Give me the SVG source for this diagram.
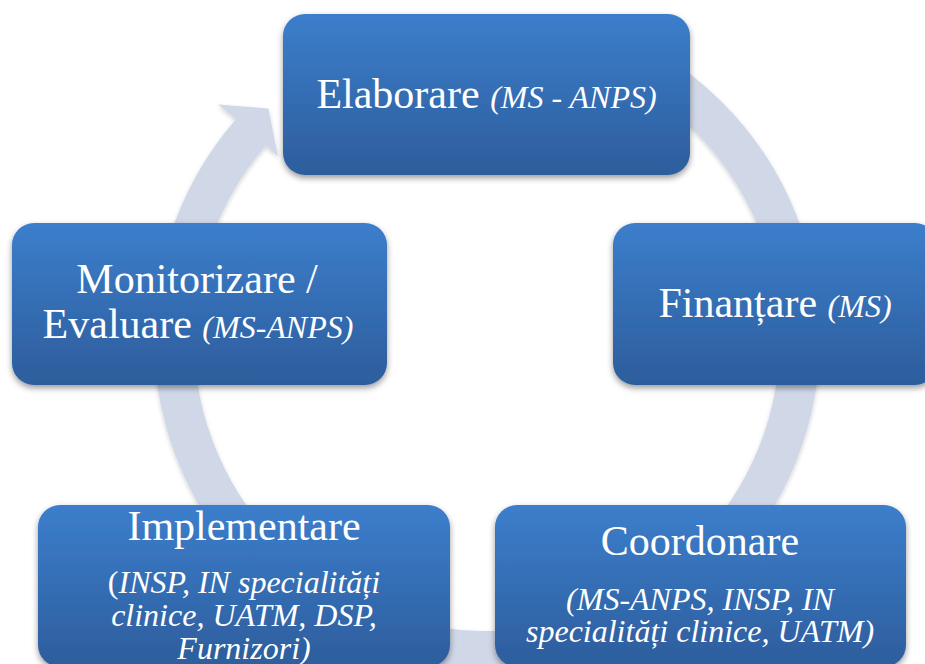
<svg xmlns="http://www.w3.org/2000/svg" width="925" height="664" viewBox="0 0 925 664">
  <defs>
    <linearGradient id="boxGrad" x1="0" y1="0" x2="0" y2="1">
      <stop offset="0" stop-color="#3C7ECC"/>
      <stop offset="1" stop-color="#2D5D9C"/>
    </linearGradient>
    <filter id="shadow" x="-10%" y="-10%" width="120%" height="130%">
      <feDropShadow dx="0" dy="3" stdDeviation="3" flood-color="#000" flood-opacity="0.4"/>
    </filter>
    <filter id="ringShadow" x="-10%" y="-10%" width="120%" height="120%">
      <feDropShadow dx="0" dy="2" stdDeviation="2" flood-color="#000" flood-opacity="0.18"/>
    </filter>
  </defs>
  <style>
    .box { fill: url(#boxGrad); filter: url(#shadow); }
    .main { font-family: "Liberation Serif", "Times New Roman", serif; font-size: 42px; fill: #FFFFFF; }
    .sub { font-family: "Liberation Serif", "Times New Roman", serif; font-size: 32px; font-style: italic; fill: #FFFFFF; }
    .up { font-style: normal; }
  </style>
  <rect width="925" height="664" fill="#FFFFFF"/>
  <g id="connectors">
    <path filter="url(#ringShadow)" fill="#D0D7E7" d="M 653.5 49.6 A 333 333 0 1 1 235.7 119.5 L 218.3 104.4 L 268.4 108.4 L 277.9 156.3 L 265.9 145.8 A 293 293 0 1 0 633.5 84.3 Z"/>
  </g>
  <g id="elaborare">
    <rect class="box" x="283" y="14" width="407" height="161" rx="22"/>
    <text x="486.5" y="108" text-anchor="middle"><tspan class="main">Elaborare </tspan><tspan class="sub">(MS - ANPS)</tspan></text>
  </g>
  <g id="finantare">
    <rect class="box" x="613" y="223" width="324" height="162" rx="22"/>
    <text x="775" y="317" text-anchor="middle"><tspan class="main">Finanțare </tspan><tspan class="sub">(MS)</tspan></text>
  </g>
  <g id="coordonare">
    <rect class="box" x="495" y="505" width="411" height="162" rx="22"/>
    <text class="main" x="700" y="555" text-anchor="middle">Coordonare</text>
    <text class="sub" x="700" y="610" text-anchor="middle">(MS-ANPS, INSP, IN</text>
    <text class="sub" x="700" y="642" text-anchor="middle">specialități clinice, UATM)</text>
  </g>
  <g id="implementare">
    <rect class="box" x="38" y="505" width="412" height="162" rx="22"/>
    <text class="main" x="244" y="540" text-anchor="middle">Implementare</text>
    <text class="sub" x="244" y="593" text-anchor="middle"><tspan class="up">(</tspan>INSP, IN specialități</text>
    <text class="sub" x="244" y="626" text-anchor="middle">clinice, UATM, DSP,</text>
    <text class="sub" x="244" y="659" text-anchor="middle">Furnizori)</text>
  </g>
  <g id="monitorizare">
    <rect class="box" x="12" y="223" width="375" height="162" rx="22"/>
    <text class="main" x="197" y="293" text-anchor="middle">Monitorizare /</text>
    <text x="198" y="338" text-anchor="middle"><tspan class="main">Evaluare </tspan><tspan class="sub">(MS-ANPS)</tspan></text>
  </g>
</svg>
